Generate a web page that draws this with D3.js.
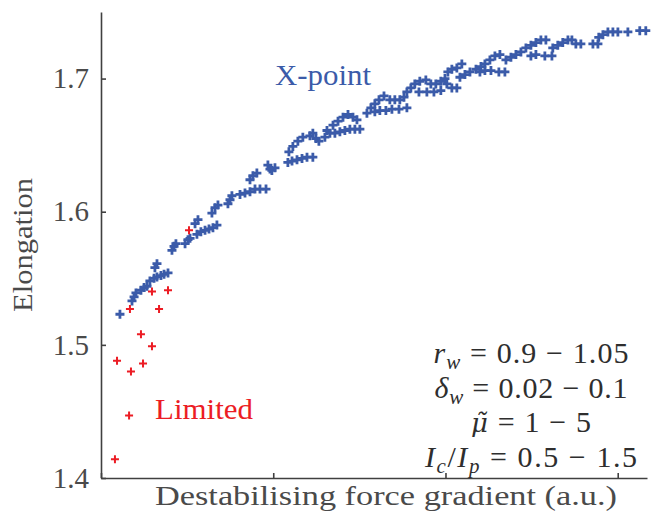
<!DOCTYPE html>
<html>
<head>
<meta charset="utf-8">
<script src="https://cdn.jsdelivr.net/npm/d3@7"></script>
<style>
	body { margin: 0; background: #fff; }
</style>
</head>
<body>
<script>
// X-point cases: destabilising force gradient (a.u.) vs elongation
const xpointGradient = [
	0.110, 0.180, 0.192, 0.203, 0.232, 0.250, 0.267, 0.284, 0.308, 0.325, 0.348, 0.366, 0.389, 0.313, 0.325,
	0.412, 0.424, 0.435, 0.488, 0.505, 0.517, 0.546, 0.563, 0.557, 0.580, 0.604, 0.627, 0.650, 0.673, 0.644,
	0.662, 0.679, 0.737, 0.749, 0.760, 0.807, 0.836, 0.865, 0.894, 0.923, 0.958, 0.865, 0.882, 0.905, 0.969,
	0.981, 0.992, 1.010, 1.085, 1.109, 1.138, 1.167, 1.196, 1.230, 1.091, 1.114, 1.143, 1.172, 1.213, 1.230,
	1.248, 1.265, 1.312, 1.329, 1.300, 1.347, 1.376, 1.405, 1.434, 1.463, 1.486, 1.358, 1.387, 1.416, 1.445,
	1.474, 1.503, 1.544, 1.567, 1.590, 1.614, 1.643, 1.677, 1.706, 1.735, 1.759, 1.590, 1.619, 1.654, 1.689,
	1.730, 1.776, 1.776, 1.799, 1.822, 1.851, 1.886, 1.915, 1.944, 1.973, 1.997, 1.846, 1.892, 1.933, 1.973,
	2.014, 2.037, 2.066, 2.095, 2.008, 2.037, 2.066, 2.084, 2.113, 2.142, 2.177, 2.206, 2.229, 2.258, 2.287,
	2.316, 2.200, 2.229, 2.264, 2.310, 2.345, 2.351, 2.380, 2.409, 2.438, 2.467, 2.496, 2.525, 2.554, 2.583,
	2.496, 2.525, 2.577, 2.618, 2.623, 2.652, 2.681, 2.711, 2.734, 2.757, 2.786, 2.856, 2.885, 2.890, 2.914,
	2.943, 2.972, 3.001, 3.059, 3.128, 3.163
];
const xpointElongation = [
	1.523, 1.533, 1.536, 1.539, 1.541, 1.543, 1.544, 1.548, 1.550, 1.551, 1.552, 1.553, 1.554, 1.558, 1.561,
	1.571, 1.574, 1.576, 1.576, 1.579, 1.580, 1.591, 1.594, 1.583, 1.585, 1.586, 1.587, 1.588, 1.590, 1.599,
	1.603, 1.605, 1.606, 1.609, 1.612, 1.613, 1.614, 1.615, 1.617, 1.617, 1.617, 1.624, 1.627, 1.629, 1.635,
	1.632, 1.631, 1.633, 1.637, 1.638, 1.639, 1.640, 1.641, 1.641, 1.645, 1.649, 1.653, 1.656, 1.657, 1.659,
	1.655, 1.653, 1.661, 1.659, 1.656, 1.665, 1.668, 1.671, 1.673, 1.671, 1.669, 1.659, 1.660, 1.661, 1.662,
	1.662, 1.662, 1.674, 1.678, 1.681, 1.684, 1.687, 1.684, 1.684, 1.684, 1.686, 1.675, 1.676, 1.676, 1.677,
	1.677, 1.678, 1.690, 1.693, 1.696, 1.698, 1.699, 1.696, 1.696, 1.698, 1.700, 1.690, 1.690, 1.690, 1.691,
	1.705, 1.707, 1.708, 1.711, 1.696, 1.693, 1.693, 1.701, 1.703, 1.705, 1.707, 1.709, 1.711, 1.714, 1.717,
	1.718, 1.705, 1.706, 1.706, 1.705, 1.705, 1.714, 1.716, 1.718, 1.720, 1.723, 1.725, 1.727, 1.729, 1.729,
	1.717, 1.718, 1.717, 1.717, 1.723, 1.725, 1.727, 1.729, 1.729, 1.726, 1.726, 1.726, 1.726, 1.731, 1.733,
	1.735, 1.735, 1.735, 1.735, 1.736, 1.736
];

// Limited cases
const limitedGradient = [0.081, 0.163, 0.093, 0.174, 0.244, 0.232, 0.296, 0.168, 0.337, 0.296, 0.389, 0.511];
const limitedElongation = [1.414, 1.447, 1.488, 1.480, 1.486, 1.508, 1.499, 1.527, 1.527, 1.540, 1.541, 1.586];

const yTicks = [1.4, 1.5, 1.6, 1.7];
const xTicks = [0, 1, 2, 3];

// each part: [text, kind]  kind: i = italic, sub = italic subscript, n = upright, g = greek with tilde
const paramLines = [
	[['r', 'i'], ['w', 'sub'], [' = 0.9 \u2212 1.05', 'n']],
	[['\u03b4', 'i'], ['w', 'sub'], [' = 0.02 \u2212 0.1', 'n']],
	[['\u03bc\u0303', 'g'], [' = 1 \u2212 5', 'n']],
	[['I', 'i'], ['c', 'sub'], ['/', 'n'], ['I', 'i'], ['p', 'sub'], [' = 0.5 \u2212 1.5', 'n']]
];
const paramWidths = [195, 193, 120, 212];

const blue = '#3b5ba9';
const red = '#ec1c24';
const axisColor = '#404040';
const textColor = '#4a4a4a';
const serif = 'Liberation Serif';

const margin = { top: 12, right: 10, bottom: 44, left: 101 };
const width = 657 - margin.left - margin.right;
const height = 522 - margin.top - margin.bottom;

const root = d3.select('body')
	.append('svg')
	.attr('width', 657)
	.attr('height', 522)
	.attr('font-family', serif);

const svg = root.append('g')
	.attr('transform', `translate(${margin.left}, ${margin.top})`);

const xScale = d3.scaleLinear().domain([0, 3.17]).range([0, width]);
const yScale = d3.scaleLinear().domain([1.4, 1.75]).range([height, 0]);

// Axes (ticks pointing inward, no x tick labels)
const xAxis = svg.append('g')
	.attr('transform', `translate(0, ${height})`)
	.call(d3.axisBottom(xScale).tickValues(xTicks).tickSizeInner(-5).tickSizeOuter(0).tickFormat(''));
const yAxis = svg.append('g')
	.call(d3.axisLeft(yScale).tickValues(yTicks).tickSizeInner(-5).tickSizeOuter(0).tickPadding(12).tickFormat(d3.format('.1f')));

[xAxis, yAxis].forEach(a => {
	a.attr('font-family', serif).attr('font-size', 29);
	a.select('.domain').attr('stroke', axisColor).attr('stroke-width', 1.6);
	a.selectAll('.tick line').attr('stroke', axisColor).attr('stroke-width', 1.6);
	a.selectAll('.tick text')
		.attr('fill', textColor)
		.attr('font-family', serif)
		.attr('font-size', 29);
});

// Axis labels
svg.append('text')
	.attr('x', 386 - margin.left)
	.attr('y', 505 - margin.top)
	.attr('text-anchor', 'middle')
	.attr('fill', textColor)
	.attr('font-family', serif)
	.attr('font-size', 27)
	.attr('textLength', 462)
	.attr('lengthAdjust', 'spacingAndGlyphs')
	.text('Destabilising force gradient (a.u.)');

svg.append('text')
	.attr('transform', `translate(${32 - margin.left}, ${245 - margin.top}) rotate(-90)`)
	.attr('text-anchor', 'middle')
	.attr('fill', textColor)
	.attr('font-family', serif)
	.attr('font-size', 27)
	.attr('textLength', 134)
	.attr('lengthAdjust', 'spacingAndGlyphs')
	.text('Elongation');

// Plus markers
const plus = s => `M${-s},0H${s}M0,${-s}V${s}`;

svg.append('g')
	.selectAll('path')
	.data(xpointGradient.map((g, i) => [g, xpointElongation[i]]))
	.enter().append('path')
	.attr('transform', d => `translate(${xScale(d[0])}, ${yScale(d[1])})`)
	.attr('d', plus(4.5))
	.attr('stroke', blue)
	.attr('stroke-width', 2.8)
	.attr('fill', 'none');

svg.append('g')
	.selectAll('path')
	.data(limitedGradient.map((g, i) => [g, limitedElongation[i]]))
	.enter().append('path')
	.attr('transform', d => `translate(${xScale(d[0])}, ${yScale(d[1])})`)
	.attr('d', plus(4))
	.attr('stroke', red)
	.attr('stroke-width', 2)
	.attr('fill', 'none');

// Region labels
svg.append('text')
	.attr('x', 275 - margin.left)
	.attr('y', 85 - margin.top)
	.attr('fill', blue)
	.attr('font-family', serif)
	.attr('font-size', 29)
	.attr('textLength', 96)
	.attr('lengthAdjust', 'spacingAndGlyphs')
	.text('X-point');

svg.append('text')
	.attr('x', 155 - margin.left)
	.attr('y', 419 - margin.top)
	.attr('fill', red)
	.attr('font-family', serif)
	.attr('font-size', 29)
	.attr('textLength', 98)
	.attr('lengthAdjust', 'spacingAndGlyphs')
	.text('Limited');

// Parameter ranges
const params = svg.append('g')
	.attr('fill', '#2e2e2e')
	.attr('font-family', serif)
	.attr('font-size', 30);

paramLines.forEach((parts, i) => {
	const t = params.append('text')
		.attr('x', 531 - margin.left)
		.attr('y', 363 + i * 34.5 - margin.top)
		.attr('text-anchor', 'middle')
		.attr('font-family', serif)
		.attr('textLength', paramWidths[i])
		.attr('lengthAdjust', 'spacing');
	let shift = 0;
	parts.forEach(([s, kind]) => {
		const ts = t.append('tspan').text(s);
		const target = kind === 'sub' ? 6 : 0;
		if (target !== shift) {
			ts.attr('dy', target - shift);
			shift = target;
		}
		if (kind === 'i') ts.attr('font-style', 'italic');
		if (kind === 'sub') ts.attr('font-style', 'italic').attr('font-size', 21);
		if (kind === 'g') ts.attr('font-style', 'italic').attr('font-family', 'DejaVu Serif').attr('font-size', 26);
	});
});
</script>
</body>
</html>
